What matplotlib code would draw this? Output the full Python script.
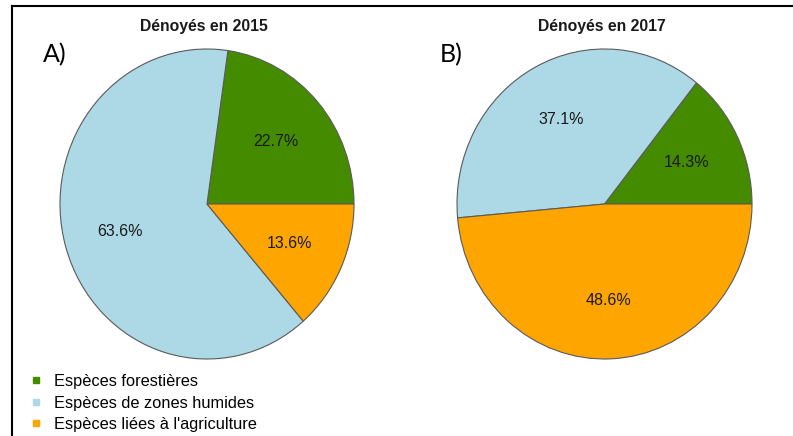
import matplotlib
matplotlib.use("Agg")
import matplotlib.pyplot as plt
from matplotlib.lines import Line2D

plt.rcParams['font.family'] = ['Liberation Sans', 'DejaVu Sans']

# counts per group (percentages are computed by the pie)
categories = ["Espèces forestières", "Espèces de zones humides", "Espèces liées à l'agriculture"]
counts_2015 = [5, 14, 3]
counts_2017 = [5, 13, 17]
titles = ["Dénoyés en 2015", "Dénoyés en 2017"]
panel_tags = ["A)", "B)"]
colors = ["#458B00", "#ADD8E6", "#FFA500"]

W, H = 793, 436
fig = plt.figure(figsize=(W / 100, H / 100), dpi=100)


def px_axes(x0, y0, x1, y1):
    # axes box given in pixel coords measured from top-left
    return fig.add_axes([x0 / W, 1 - y1 / H, (x1 - x0) / W, (y1 - y0) / H])


boxes = [(60, 49, 354, 359), (457, 49, 752, 359)]
data = [counts_2015, counts_2017]

for box, vals, title, tag in zip(boxes, data, titles, panel_tags):
    ax = px_axes(*box)
    wedges, texts, autotexts = ax.pie(
        vals, colors=colors, startangle=0, counterclock=True,
        autopct='%1.1f%%', pctdistance=0.62, radius=1,
        wedgeprops=dict(edgecolor='#5a5a5a', linewidth=0.8),
        textprops=dict(fontsize=11.5, color='#1a1a1a'))
    ax.set_aspect('auto')
    ax.set_xlim(-1, 1)
    ax.set_ylim(-1, 1)
    cx = (box[0] + box[2]) / 2 / W
    fig.text(cx - 3 / W, 1 - 31 / H, title, ha='center', va='baseline',
             fontsize=11.3, fontweight='bold', color='#1a1a1a')
    fig.text((box[0] - 17) / W, 1 - 62 / H, tag, ha='left', va='baseline',
             fontsize=18, family=['Lato', 'DejaVu Sans'], color='black')

handles = [Line2D([], [], marker='s', linestyle='none', markersize=4.8,
                  markerfacecolor=c, markeredgecolor=c) for c in colors]
fig.legend(handles, categories, loc='upper left',
           bbox_to_anchor=(31 / W, 1 - 374 / H), frameon=False,
           fontsize=11.8, handlelength=0.6, handletextpad=0.8,
           labelspacing=0.4, borderaxespad=0, borderpad=0)

# outer frame (top and left edges)
fig.add_artist(Line2D([12 / W, 1], [1 - 6 / H, 1 - 6 / H], color='black', linewidth=1.5))
fig.add_artist(Line2D([12 / W, 12 / W], [1 - 6 / H, 0], color='black', linewidth=1.5))

fig.savefig("out.png", dpi=100)
